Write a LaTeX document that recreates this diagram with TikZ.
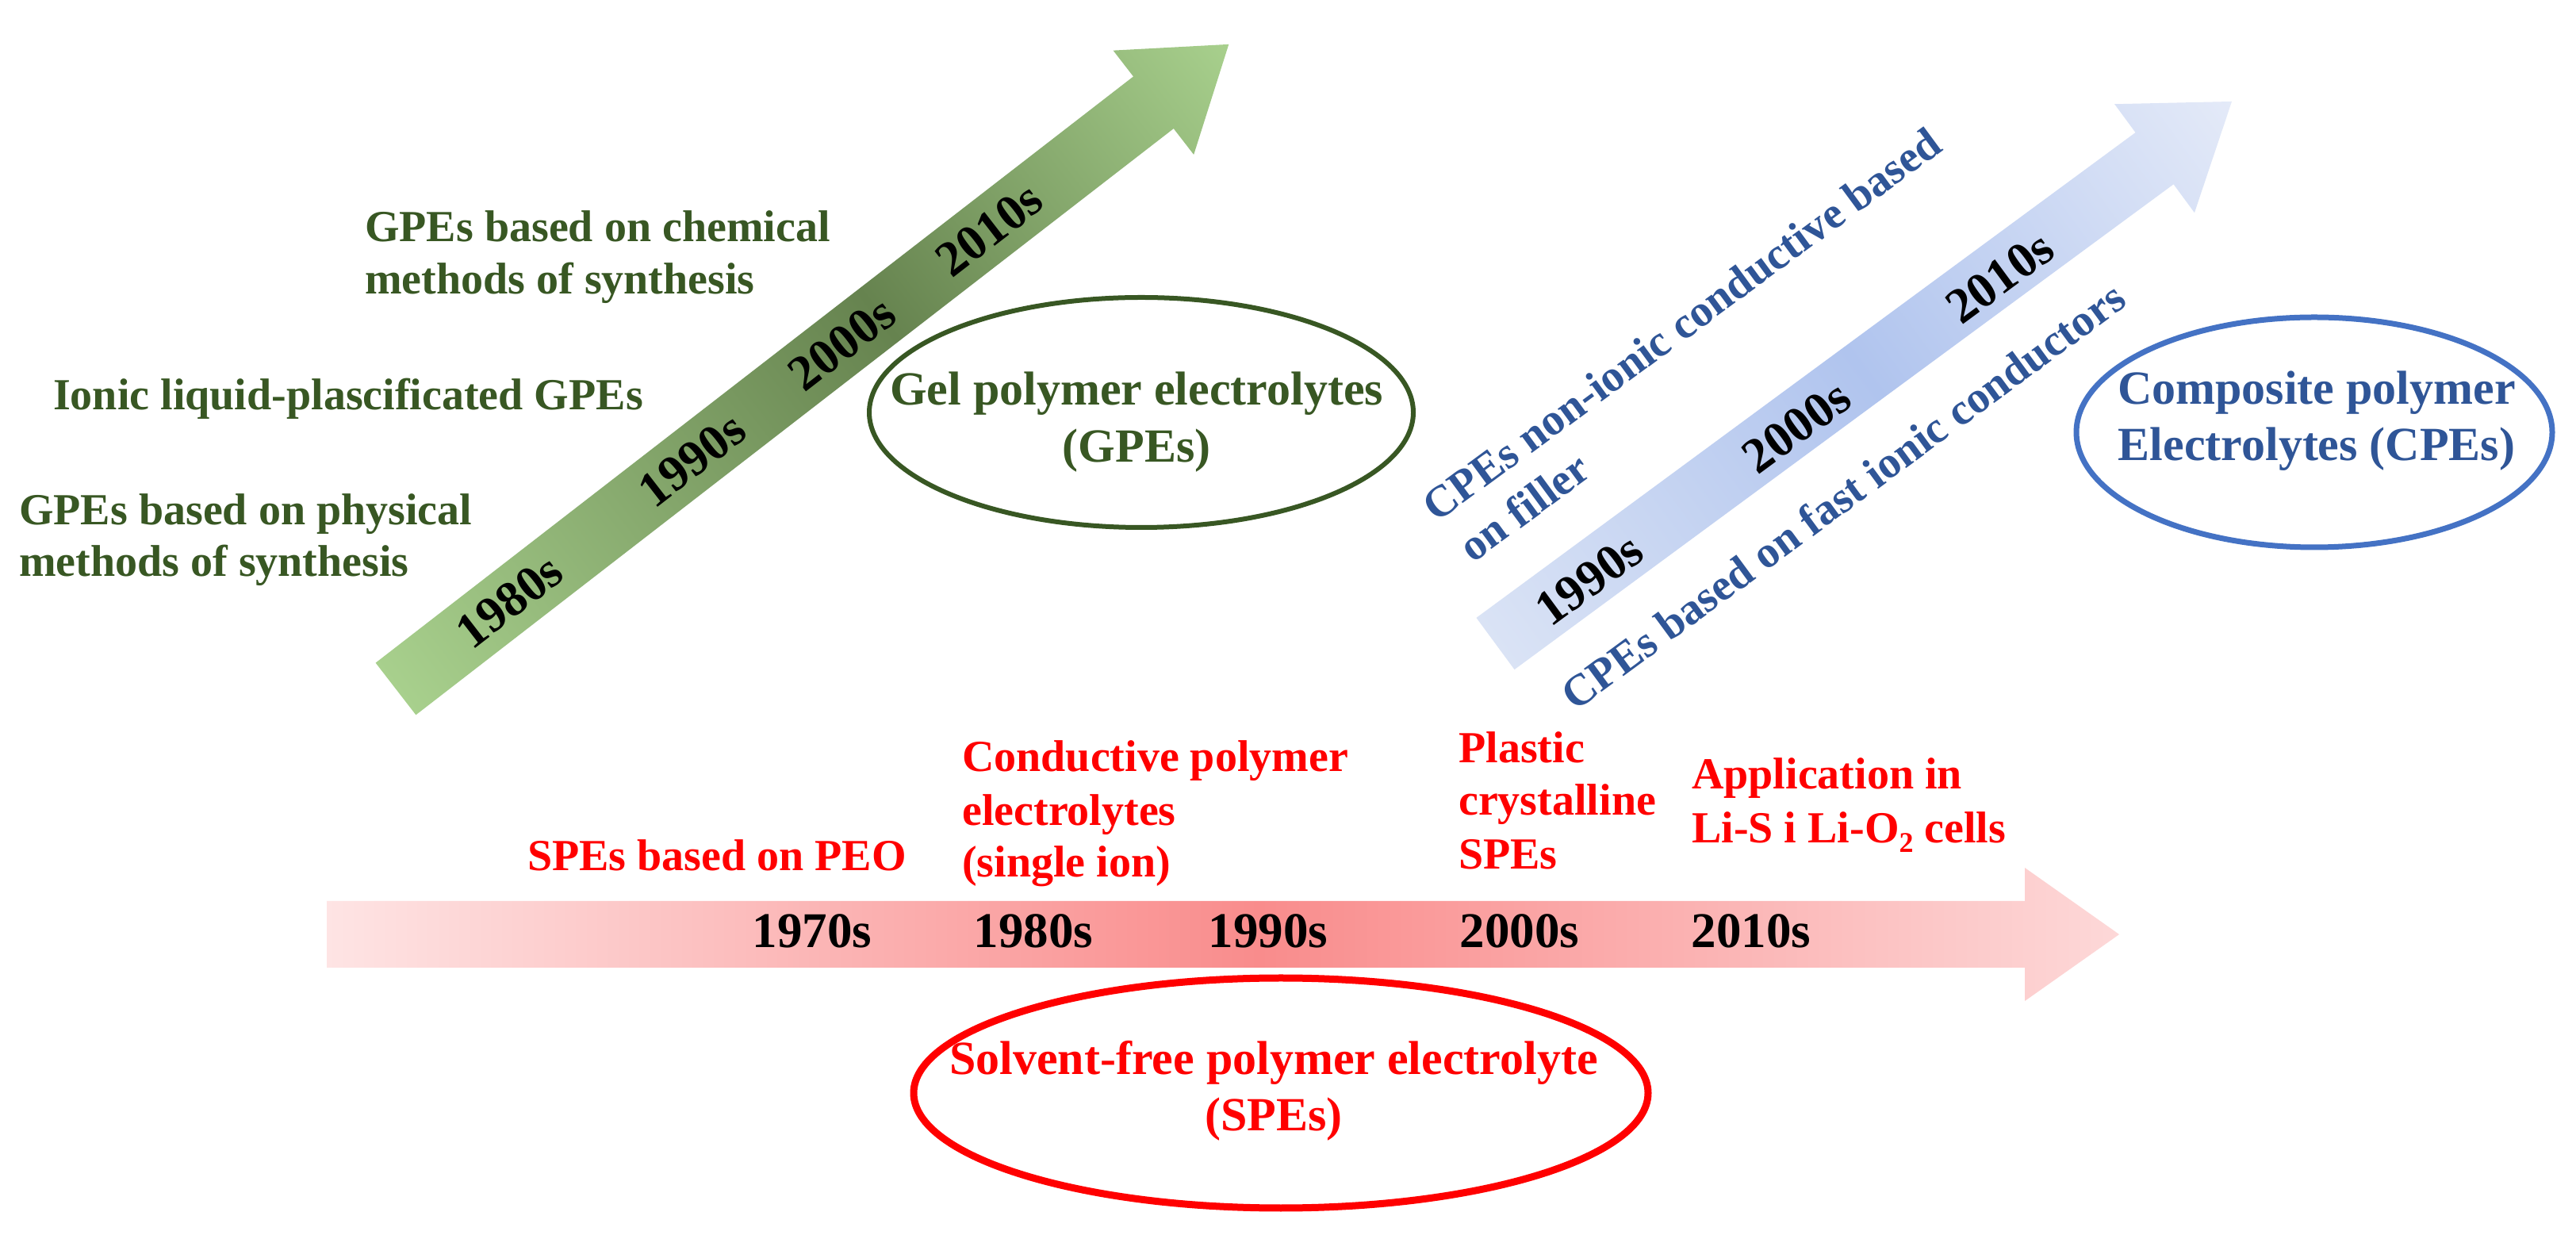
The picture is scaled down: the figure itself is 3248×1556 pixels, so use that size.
\documentclass[tikz,border=0pt]{standalone}
\usepackage{fontspec}
\setmainfont{Liberation Serif}
\usetikzlibrary{calc}

\definecolor{gtxt}{HTML}{385723}
\definecolor{btxt}{HTML}{2F5597}
\definecolor{bline}{HTML}{4472C4}
\definecolor{rtxt}{HTML}{FF0000}
\definecolor{gA}{HTML}{A8D08D}
\definecolor{gB}{HTML}{66834F}
\definecolor{gC}{HTML}{A8D08D}
\definecolor{bA}{HTML}{DAE3F5}
\definecolor{bB}{HTML}{B0C4EE}
\definecolor{bC}{HTML}{E4EAF8}
\definecolor{rA}{HTML}{FEE4E4}
\definecolor{rB}{HTML}{F98C8C}
\definecolor{rC}{HTML}{FDD8D8}

\pgfdeclarehorizontalshading{gshade}{100bp}{color(0bp)=(gA); color(25bp)=(gA); color(54bp)=(gB); color(75bp)=(gC); color(100bp)=(gC)}
\pgfdeclarehorizontalshading{bshade}{100bp}{color(0bp)=(bA); color(25bp)=(bA); color(50bp)=(bB); color(75bp)=(bC); color(100bp)=(bC)}
\pgfdeclarehorizontalshading{rshade}{100bp}{color(0bp)=(rA); color(25bp)=(rA); color(51bp)=(rB); color(75bp)=(rC); color(100bp)=(rC)}

\tikzset{
  gl/.style={font=\fontsize{56}{67}\selectfont\bfseries, text=gtxt, inner sep=0pt, anchor=base west},
  rl/.style={font=\fontsize{56}{67}\selectfont\bfseries, text=rtxt, inner sep=0pt, anchor=base west},
  bl/.style={font=\fontsize{56}{67}\selectfont\bfseries, text=btxt, inner sep=0pt, anchor=base west, rotate=36.36},
  yr/.style={font=\fontsize{63}{70}\selectfont\bfseries, text=black, inner sep=0pt},
  et/.style={font=\fontsize{60}{70}\selectfont\bfseries, inner sep=0pt, anchor=base},
}

\begin{document}
\begin{tikzpicture}[x=1pt,y=1pt]
\useasboundingbox[fill=white] (0,0) rectangle (3248,1556);

% ---------- arrows ----------
\coordinate (gt) at (499,687.5);
\coordinate (bt) at (1885.5,744.5);
\coordinate (rt) at (412,378);

\begin{scope}[transform canvas={shift={(499,687.5)},rotate=37.73}]
  \shade[shading=gshade] (0,-41.5) -- (1208,-41.5) -- (1208,-83) -- (1328,0)
     -- (1208,83) -- (1208,41.5) -- (0,41.5) -- cycle;
\end{scope}
\begin{scope}[transform canvas={shift={(1885.5,744.5)},rotate=36.36}]
  \shade[shading=bshade] (0,-40.5) -- (1032,-40.5) -- (1032,-85) -- (1153,0)
     -- (1032,85) -- (1032,40.5) -- (0,40.5) -- cycle;
\end{scope}
\begin{scope}[transform canvas={shift={(412,378)}}]
  \shade[shading=rshade] (0,-42) -- (2141,-42) -- (2141,-84) -- (2260,0)
     -- (2141,84) -- (2141,42) -- (0,42) -- cycle;
\end{scope}

% ---------- green arrow years ----------
\node[yr, rotate=37.73] (g1980) at ($(gt)+(37.73:181)$) {1980s};
\node[yr, rotate=37.73] (g1990) at ($(gt)+(37.73:472)$) {1990s};
\node[yr, rotate=37.73] (g2000) at ($(gt)+(37.73:711)$) {2000s};
\node[yr, rotate=37.73] (g2010) at ($(gt)+(37.73:946)$) {2010s};

% ---------- blue arrow years ----------
\node[yr, rotate=36.36] (b1990) at ($(bt)+(36.36:143)+(-53.64:5)$) {1990s};
\node[yr, rotate=36.36] (b2000) at ($(bt)+(36.36:468)+(-53.64:5)$) {2000s};
\node[yr, rotate=36.36] (b2010) at ($(bt)+(36.36:786)+(-53.64:5)$) {2010s};

% ---------- red arrow years ----------
\node[yr, anchor=base] (r1970) at (1024,361) {1970s};
\node[yr, anchor=base] (r1980) at (1303,361) {1980s};
\node[yr, anchor=base] (r1990) at (1599,361) {1990s};
\node[yr, anchor=base] (r2000) at (1916,361) {2000s};
\node[yr, anchor=base] (r2010) at (2208,361) {2010s};

% ---------- green labels ----------
\node[gl] (gchemA) at (460,1251) {GPEs based on chemical};
\node[gl] (gchemB) at (460,1185) {methods of synthesis};
\node[gl] (gionic) at (67,1039) {Ionic liquid-plascificated GPEs};
\node[gl] (gphysA) at (24,894) {GPEs based on physical};
\node[gl] (gphysB) at (24,829) {methods of synthesis};

% ---------- blue labels ----------
\node[bl] (bnonA) at ($(bt)+(36.36:30)+(126.36:166)$) {CPEs non-ionic conductive based};
\node[bl] (bnonB) at ($(bt)+(36.36:37)+(126.36:98)$) {on filler};
\node[bl] (bfast) at ($(bt)+(36.36:30)+(-53.64:129)$) {CPEs based on fast ionic conductors};

% ---------- red labels ----------
\node[rl] (rpeo) at (665,458) {SPEs based on PEO};
\node[rl] (rcondA) at (1213,583) {Conductive polymer};
\node[rl] (rcondB) at (1213,515) {electrolytes};
\node[rl] (rcondC) at (1213,450) {(single ion)};
\node[rl] (rplasA) at (1839,594) {Plastic};
\node[rl] (rplasB) at (1839,528) {crystalline};
\node[rl] (rplasC) at (1839,460) {SPEs};
\node[rl] (rappA) at (2133,561) {Application in};
\node[rl] (rappB) at (2133,493) {Li-S i Li-O\raisebox{-0.2em}{\fontsize{36}{36}\selectfont 2} cells};

% ---------- ellipses ----------
\draw[gtxt, line width=6] (1439,1036) ellipse [x radius=343, y radius=145];
\node[et, text=gtxt] (gelA) at (1433,1045) {Gel polymer electrolytes};
\node[et, text=gtxt] (gelB) at (1433,973) {(GPEs)};

\draw[bline, line width=7] (2918,1011) ellipse [x radius=300, y radius=145];
\node[et, text=btxt] (cpeA) at (2921,1046) {Composite polymer};
\node[et, text=btxt] (cpeB) at (2921,975) {Electrolytes (CPEs)};

\draw[rtxt, line width=9] (1615,178) ellipse [x radius=463, y radius=145];
\node[et, text=rtxt] (speA) at (1606,201) {Solvent-free polymer electrolyte};
\node[et, text=rtxt] (speB) at (1606,130) {(SPEs)};
\end{tikzpicture}
\end{document}
